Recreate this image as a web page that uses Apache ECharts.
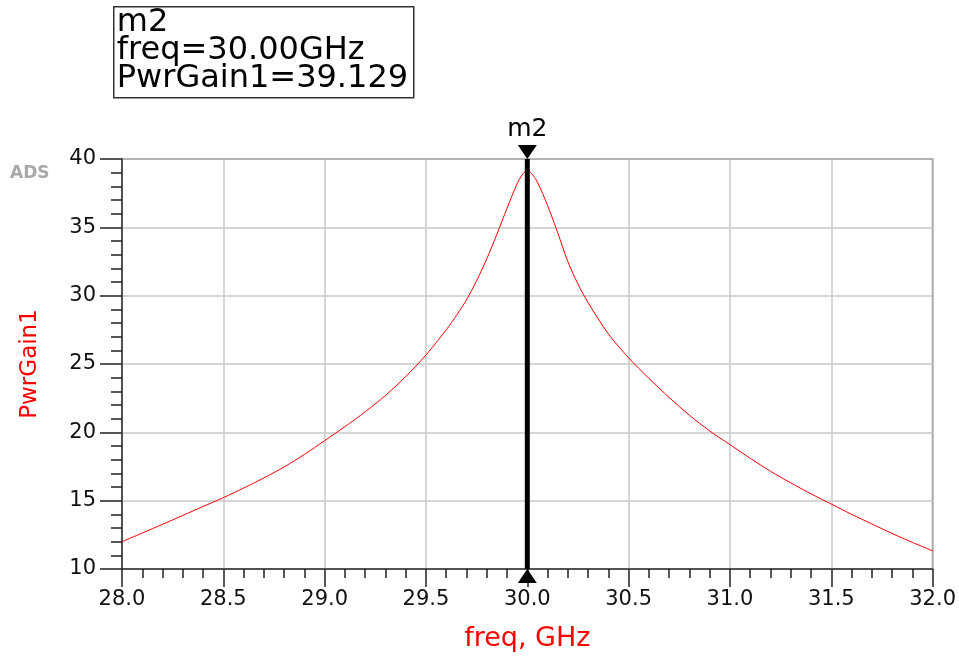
<!DOCTYPE html>
<html>
<head>
<meta charset="utf-8">
<script src="https://cdn.jsdelivr.net/npm/echarts@6/dist/echarts.min.js"></script>
<style>
    html, body { margin: 0; padding: 0; background: #fff; }
    #chart { width: 959px; height: 659px; }
</style>
</head>
<body>
<div id="chart"></div>
<script>
    // 数据：频率 (GHz) 与功率增益
    var freq = [28.0, 28.1, 28.2, 28.3, 28.4, 28.5, 28.6, 28.7, 28.8, 28.9,
                29.0, 29.1, 29.2, 29.3, 29.4, 29.5, 29.6, 29.65, 29.7, 29.75,
                29.8, 29.85, 29.9, 29.95, 29.98, 30.0, 30.02, 30.05, 30.1, 30.15,
                30.2, 30.25, 30.3, 30.4, 30.5, 30.6, 30.7, 30.8, 30.9,
                31.0, 31.1, 31.2, 31.3, 31.4, 31.5, 31.6, 31.7, 31.8, 31.9, 32.0];
    var gain = [12.0, 12.63, 13.27, 13.92, 14.57, 15.22, 15.92, 16.66, 17.47, 18.38,
                19.39, 20.42, 21.5, 22.7, 24.08, 25.66, 27.5, 28.55, 29.7, 31.1,
                32.7, 34.5, 36.4, 38.2, 38.95, 39.13, 38.95, 38.3, 36.6, 34.6,
                32.5, 30.85, 29.5, 27.2, 25.45, 23.95, 22.55, 21.25, 20.1,
                19.1, 18.1, 17.15, 16.3, 15.5, 14.75, 14.0, 13.3, 12.6, 11.95, 11.33];
    var xRange = [28, 32];
    var yRange = [10, 40];
    var markerName = 'm2';
    var markerFreq = 30.0;
    var markerGain = 39.129;

    var txtColor = '#111';
    var font = 'DejaVu Sans';

    var points = freq.map(function (f, i) { return [f, gain[i]]; });

    var myChart = echarts.init(document.getElementById('chart'));

    var option = {
        animation: false,
        textStyle: { fontFamily: font },
        grid: {
            left: 122, right: 23, top: 159, bottom: 90,
            show: true,
            borderColor: '#444',
            borderWidth: 1.5
        },
        graphic: [
            {
                type: 'group',
                left: 113, top: 6,
                children: [
                    {
                        type: 'rect',
                        shape: { x: 0, y: 0, width: 300, height: 91 },
                        style: { fill: '#fff', stroke: '#333', lineWidth: 1.5 }
                    },
                    {
                        type: 'text',
                        x: 3, y: 2,
                        style: {
                            text: markerName + '\nfreq=' + markerFreq.toFixed(2) + 'GHz\nPwrGain1=' + markerGain.toFixed(3),
                            font: '32px "DejaVu Sans"',
                            lineHeight: 28,
                            fill: '#000'
                        }
                    }
                ]
            },
            {
                type: 'text',
                left: 10, top: 165,
                style: { text: 'ADS', font: 'bold 17px "DejaVu Sans"', fill: '#a8a8a8' }
            }
        ],
        xAxis: {
            type: 'value',
            min: xRange[0], max: xRange[1], interval: 0.5,
            name: 'freq, GHz',
            nameLocation: 'middle',
            nameGap: 56,
            nameTextStyle: { color: '#ff0000', fontSize: 27, fontFamily: font },
            axisLine: { lineStyle: { color: '#333', width: 1.5 } },
            axisTick: { inside: false, length: 18, lineStyle: { color: '#222', width: 1.5 } },
            minorTick: { show: true, splitNumber: 5, length: 9, lineStyle: { color: '#222', width: 1.5 } },
            axisLabel: {
                margin: 20, color: txtColor, fontSize: 21, fontFamily: font,
                formatter: function (v) { return v.toFixed(1); }
            },
            splitLine: { show: true, lineStyle: { color: '#c8c8c8', width: 1.5 } }
        },
        yAxis: {
            type: 'value',
            min: yRange[0], max: yRange[1], interval: 5,
            name: 'PwrGain1',
            nameLocation: 'middle',
            nameGap: 80,
            nameRotate: 90,
            nameTextStyle: { color: '#ff0000', fontSize: 23, fontFamily: font },
            axisLine: { show: true, lineStyle: { color: '#333', width: 1.5 } },
            axisTick: { show: true, inside: false, length: 22, lineStyle: { color: '#222', width: 1.5 } },
            minorTick: { show: true, splitNumber: 5, length: 11, lineStyle: { color: '#222', width: 1.5 } },
            axisLabel: { margin: 26, color: txtColor, fontSize: 21, fontFamily: font },
            splitLine: { show: true, lineStyle: { color: '#c8c8c8', width: 1.5 } }
        },
        series: [
            {
                name: 'PwrGain1',
                type: 'line',
                data: points,
                symbol: 'none',
                smooth: 0.3,
                lineStyle: { color: '#ff0000', width: 1 },
                z: 3
            },
            {
                // 标记线 m2
                type: 'line',
                data: [[markerFreq, yRange[0]], [markerFreq, yRange[1]]],
                symbol: 'none',
                lineStyle: { color: '#000', width: 5 },
                z: 4
            },
            {
                type: 'scatter',
                clip: false,
                data: [[markerFreq, yRange[1]]],
                symbol: 'triangle',
                symbolRotate: 180,
                symbolSize: [19, 14],
                symbolOffset: [0, -7],
                itemStyle: { color: '#000', opacity: 1 },
                label: {
                    show: true, position: 'top', distance: 3,
                    formatter: markerName,
                    color: '#000', fontSize: 25, fontFamily: font
                },
                z: 5
            },
            {
                type: 'scatter',
                clip: false,
                data: [[markerFreq, yRange[0]]],
                symbol: 'triangle',
                symbolSize: [19, 14],
                symbolOffset: [0, 7],
                itemStyle: { color: '#000', opacity: 1 },
                z: 5
            }
        ]
    };

    myChart.setOption(option);
</script>
</body>
</html>
